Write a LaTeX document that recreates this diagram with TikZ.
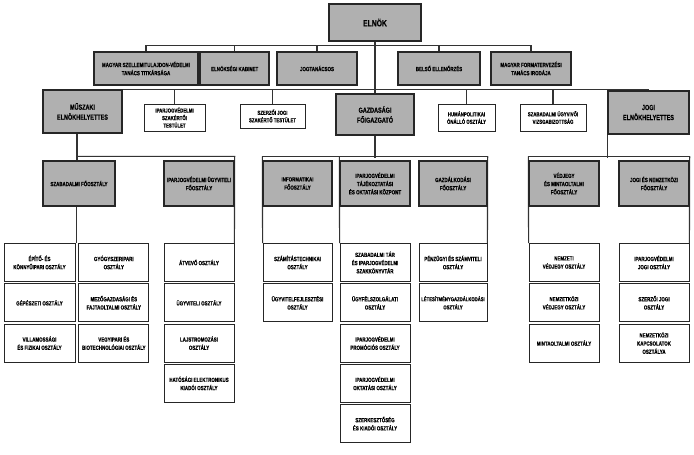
\documentclass[tikz,border=0pt]{standalone}
\usepackage{fontspec}
\setmainfont{Liberation Sans}[FakeStretch=0.74,BoldFeatures={FakeBold=0.35}]
\usetikzlibrary{positioning,backgrounds}

\begin{document}
\begin{tikzpicture}
  [x=1pt,y=-1pt,
   baseN/.style={draw=black!85,align=center,inner sep=0.5pt,
     font=\fontsize{6}{8.2}\selectfont\bfseries},
   grayN/.style={baseN,fill=black!31,line width=1.4pt},
   topN/.style={grayN,line width=2.2pt,minimum height=33pt},
   headN/.style={grayN,minimum height=43pt,font=\fontsize{7.4}{10}\selectfont\bfseries},
   foN/.style={grayN,minimum width=70pt,minimum height=45pt},
   whiteN/.style={baseN,fill=white,line width=0.8pt},
   smallN/.style={whiteN,minimum height=27pt,font=\fontsize{5.8}{7.5}\selectfont\bfseries},
   subN/.style={whiteN,minimum width=70pt,minimum height=38pt},
   conn/.style={draw=black!80,line width=1.1pt},
   node distance=1.5pt]

  \useasboundingbox (0,0) rectangle (694,455);

  \node[topN,minimum width=92pt,minimum height=37pt,font=\fontsize{9.2}{11}\selectfont\bfseries] (elnok) at (375,22.5) {ELNÖK};

  % second row
  \node[topN,minimum width=104pt] (msztt) at (146,68.5) {MAGYAR SZELLEMITULAJDON-VÉDELMI\\TANÁCS TITKÁRSÁGA};
  \node[topN,minimum width=69pt] (kabinet) [right=0pt of msztt] {ELNÖKSÉGI KABINET};
  \node[topN,minimum width=80pt] (jogtan) at (317,68.5) {JOGTANÁCSOS};
  \node[topN,minimum width=82pt] (belso) at (439,68.5) {BELSŐ ELLENŐRZÉS};
  \node[topN,minimum width=80pt] (mfti) at (531,68.5) {MAGYAR FORMATERVEZÉSI\\TANÁCS IRODÁJA};

  % third row
  \node[headN,minimum width=79pt] (musz) at (82.5,111.5) {MŰSZAKI\\ELNÖKHELYETTES};
  \node[smallN,minimum width=61pt] (szakert) at (174.5,117.5) {IPARJOGVÉDELMI\\SZAKÉRTŐI\\TESTÜLET};
  \node[smallN,minimum width=65pt,minimum height=24pt] (szerzo) at (272.5,116) {SZERZŐI JOGI\\SZAKÉRTŐ TESTÜLET};
  \node[headN,minimum width=78pt,minimum height=41pt] (gazd) at (375,114.5) {GAZDASÁGI\\FŐIGAZGATÓ};
  \node[smallN,minimum width=57pt] (human) at (466.5,117.5) {HUMÁNPOLITIKAI\\ÖNÁLLÓ OSZTÁLY};
  \node[smallN,minimum width=66pt] (ugyvivoi) at (553,117.5) {SZABADALMI ÜGYVIVŐI\\VIZSGABIZOTTSÁG};
  \node[headN,minimum width=81pt] (jogi) at (648.5,112.5) {JOGI\\ELNÖKHELYETTES};

  % fooszralyok
  \node[foN,minimum width=72pt] (szabfo) at (79,183.5) {SZABADALMI FŐOSZTÁLY};
  \node[foN] (ugyvfo) at (199,183.5) {IPARJOGVÉDELMI ÜGYVITELI\\FŐOSZTÁLY};
  \node[foN,minimum width=69pt] (infofo) at (297.5,183.5) {INFORMATIKAI\\FŐOSZTÁLY};
  \node[foN] (tajkozp) at (375,183.5) {IPARJOGVÉDELMI\\TÁJÉKOZTATÁSI\\ÉS OKTATÁSI KÖZPONT};
  \node[foN,minimum width=68pt] (gazdfo) at (453,183.5) {GAZDÁLKODÁSI\\FŐOSZTÁLY};
  \node[foN] (vedjfo) at (564,183.5) {VÉDJEGY\\ÉS MINTAOLTALMI\\FŐOSZTÁLY};
  \node[foN] (jogifo) at (654,183.5) {JOGI ÉS NEMZETKÖZI\\FŐOSZTÁLY};

  % osztalyok
  \node[subN,minimum width=71pt] (epito) at (39.5,262.5) {ÉPÍTŐ- ÉS\\KÖNNYŰIPARI OSZTÁLY};
  \node[subN,minimum width=71pt] (gepesz) [below=of epito] {GÉPÉSZETI OSZTÁLY};
  \node[subN,minimum width=71pt] (villany) [below=of gepesz] {VILLAMOSSÁGI\\ÉS FIZIKAI OSZTÁLY};
  \node[subN] (gyogy) [right=3pt of epito] {GYÓGYSZERIPARI\\OSZTÁLY};
  \node[subN] (mezo) [below=of gyogy] {MEZŐGAZDASÁGI ÉS\\FAJTAOLTALMI OSZTÁLY};
  \node[subN] (vegy) [below=of mezo] {VEGYIPARI ÉS\\BIOTECHNOLÓGIAI OSZTÁLY};

  \node[subN] (ugy1) at (199,262.5) {ÁTVEVŐ OSZTÁLY};
  \node[subN] (ugy2) [below=of ugy1] {ÜGYVITELI OSZTÁLY};
  \node[subN] (ugy3) [below=of ugy2] {LAJSTROMOZÁSI\\OSZTÁLY};
  \node[subN] (ugy4) [below=of ugy3] {HATÓSÁGI ELEKTRONIKUS\\KIADÓI OSZTÁLY};

  \node[subN,minimum width=69pt] (info1) at (297.5,262.5) {SZÁMÍTÁSTECHNIKAI\\OSZTÁLY};
  \node[subN,minimum width=69pt] (info2) [below=of info1] {ÜGYVITELFEJLESZTÉSI\\OSZTÁLY};

  \node[subN] (taj1) at (375,262.5) {SZABADALMI TÁR\\ÉS IPARJOGVÉDELMI\\SZAKKÖNYVTÁR};
  \node[subN] (taj2) [below=of taj1] {ÜGYFÉLSZOLGÁLATI\\OSZTÁLY};
  \node[subN] (taj3) [below=of taj2] {IPARJOGVÉDELMI\\PROMÓCIÓS OSZTÁLY};
  \node[subN] (taj4) [below=of taj3] {IPARJOGVÉDELMI\\OKTATÁSI OSZTÁLY};
  \node[subN] (taj5) [below=of taj4] {SZERKESZTŐSÉG\\ÉS KIADÓI OSZTÁLY};

  \node[subN,minimum width=68pt] (gazd1) at (453,262.5) {PÉNZÜGYI ÉS SZÁMVITELI\\OSZTÁLY};
  \node[subN,minimum width=68pt,font=\fontsize{5.7}{8.2}\selectfont\bfseries] (gazd2) [below=of gazd1] {LÉTESÍTMÉNYGAZDÁLKODÁSI\\OSZTÁLY};

  \node[subN] (vedj1) at (564,262.5) {NEMZETI\\VÉDJEGY OSZTÁLY};
  \node[subN] (vedj2) [below=of vedj1] {NEMZETKÖZI\\VÉDJEGY OSZTÁLY};
  \node[subN] (vedj3) [below=of vedj2] {MINTAOLTALMI OSZTÁLY};

  \node[subN] (jogi1) at (654,262.5) {IPARJOGVÉDELMI\\JOGI OSZTÁLY};
  \node[subN] (jogi2) [below=of jogi1] {SZERZŐI JOGI\\OSZTÁLY};
  \node[subN] (jogi3) [below=of jogi2] {NEMZETKÖZI\\KAPCSOLATOK\\OSZTÁLYA};

  \begin{scope}[on background layer]
    \draw[conn] (elnok) -- (gazd);
    \draw[conn] (msztt.north) -- ++(0,-5) -| (mfti.north);
    \foreach \n in {kabinet,jogtan,belso}
      \draw[conn] (\n.north) -- ++(0,-5);

    \draw[conn] (musz.north) -- (musz.north -| jogi.north);
    \foreach \n in {szakert,szerzo,human,ugyvivoi}
      \draw[conn] (\n.north) -- (\n.north |- musz.north);

    \coordinate (mx) at ([xshift=-5.5pt]musz.south);
    \draw[conn] (mx) |- ([yshift=4pt]ugyvfo.north east) -- (ugy1.north east);
    \draw[conn] (mx) -- (mx |- szabfo.north);
    \draw[conn] ([xshift=-2.5pt]szabfo.south) -- ([xshift=-2.5pt]szabfo.south |- epito.north);

    \draw[conn] (gazd.south) -- ++(0,22);
    \draw[conn] ([yshift=4pt]infofo.north west) -- ([yshift=4pt]gazdfo.north east);
    \draw[conn] ([yshift=4pt]infofo.north west) -- (info1.north west);
    \draw[conn] ([yshift=4pt]tajkozp.north west) -- (taj1.north west);
    \draw[conn] ([yshift=4pt]gazdfo.north east) -- (gazd1.north east);

    \draw[conn] (jogi.south west) -- ++(0,23);
    \draw[conn] ([yshift=4pt]vedjfo.north west) -- ([yshift=4pt]jogifo.north east);
    \draw[conn] ([yshift=4pt]vedjfo.north west) -- (vedj1.north west);
    \draw[conn] ([yshift=4pt]jogifo.north east) -- (jogi1.north east);
  \end{scope}

\end{tikzpicture}
\end{document}
